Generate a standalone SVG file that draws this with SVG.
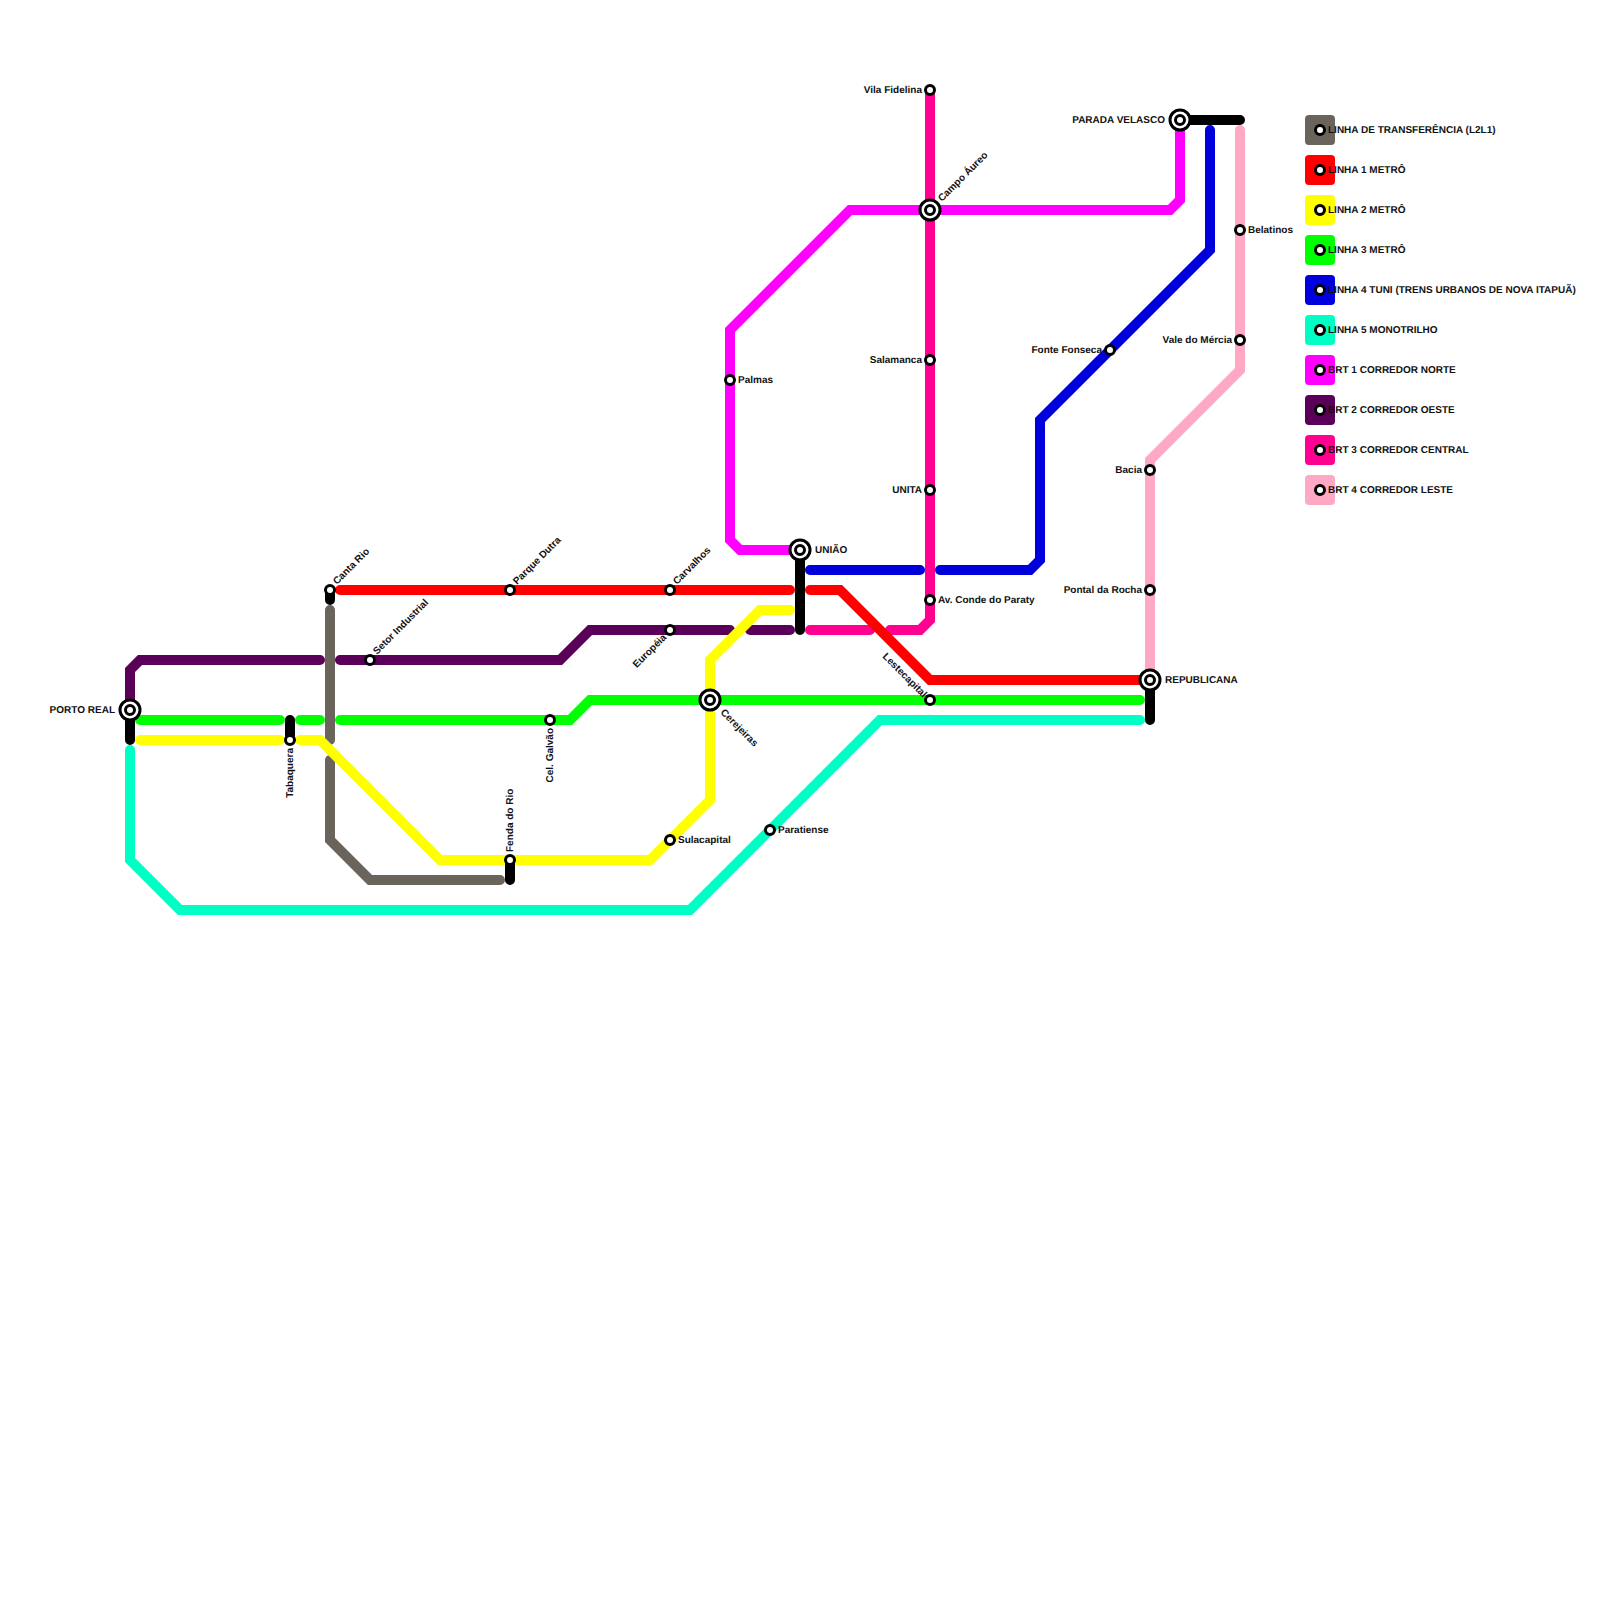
<svg xmlns="http://www.w3.org/2000/svg" width="1600" height="1600" viewBox="0 0 1600 1600">
<style>
text{font-family:"Liberation Sans",Arial,sans-serif;font-size:10px;font-weight:700;fill:#111;text-rendering:geometricPrecision}
.l{fill:none;stroke-width:10;stroke-linecap:round;stroke-linejoin:miter}
.e{text-anchor:end}
.s{fill:#fff;stroke:#000;stroke-width:3}
.gr{stroke:#6b645c}.re{stroke:#f00}.ye{stroke:#ff0}.ge{stroke:#0f0}.bl{stroke:#00d}.te{stroke:#00ffc4}.ma{stroke:#f0f}.pu{stroke:#5a0058}.ho{stroke:#ff0090}.pk{stroke:#ffa8c4}.bk{stroke:#000}
</style>
<defs>
<g id="st"><circle class="s" r="4.5"/></g>
<g id="ix"><circle class="s" r="10"/><circle class="s" r="4.5"/></g>
</defs>
<g id="connectors">
<path class="l gr" d="M330 610V740M330 760V840L370 880H500"/>
<path class="l pu" d="M130 700V670L140 660H320M340 660H560L590 630H730M750 630H790"/>
<path class="l ho" d="M810 630H870M890 630H920L930 620V90"/>
<path class="l re" d="M340 590H790M810 590H840L930 680H1150"/>
<path class="l ye" d="M140 740H280M300 740H320L440 860H650L710 800V660L760 610H790"/>
<path class="l ge" d="M140 720H280M300 720H320M340 720H570L590 700H1140"/>
<path class="l te" d="M130 750V860L180 910H690L880 720H1140"/>
<path class="l bl" d="M810 570H920M940 570H1030L1040 560V420L1210 250V130"/>
<path class="l ma" d="M800 550H740L730 540V330L850 210H1170L1180 200V120"/>
<path class="l pk" d="M1150 680V460L1240 370V130"/>
<path class="l bk" d="M130 710V740M290 720V740M330 590V600M510 860V880M800 550V630M1150 680V720M1180 120H1240"/>
</g>
<g id="porto-real"><use href="#ix" x="130" y="710"/><text class="e" x="115" y="713">PORTO REAL</text></g>
<g id="tabaquera"><use href="#st" x="290" y="740"/><text class="e" transform="translate(293 748) rotate(-90)">Tabaquera</text></g>
<g id="canta-rio"><use href="#st" x="330" y="590"/><text transform="translate(337 585) rotate(-45)">Canta Rio</text></g>
<g id="setor-industrial"><use href="#st" x="370" y="660"/><text transform="translate(377 655) rotate(-45)">Setor Industrial</text></g>
<g id="parque-dutra"><use href="#st" x="510" y="590"/><text transform="translate(517 585) rotate(-45)">Parque Dutra</text></g>
<g id="fenda-do-rio"><use href="#st" x="510" y="860"/><text transform="translate(513 852) rotate(-90)">Fenda do Rio</text></g>
<g id="cel-galvao"><use href="#st" x="550" y="720"/><text class="e" transform="translate(553 728) rotate(-90)">Cel. Galvão</text></g>
<g id="carvalhos"><use href="#st" x="670" y="590"/><text transform="translate(677 585) rotate(-45)">Carvalhos</text></g>
<g id="europeia"><use href="#st" x="670" y="630"/><text class="e" transform="translate(667 638) rotate(-45)">Européia</text></g>
<g id="sulacapital"><use href="#st" x="670" y="840"/><text x="678" y="843">Sulacapital</text></g>
<g id="cerejeiras"><use href="#ix" x="710" y="700"/><text transform="translate(720 713) rotate(45)">Cerejeiras</text></g>
<g id="palmas"><use href="#st" x="730" y="380"/><text x="738" y="383">Palmas</text></g>
<g id="paratiense"><use href="#st" x="770" y="830"/><text x="778" y="833">Paratiense</text></g>
<g id="uniao"><use href="#ix" x="800" y="550"/><text x="815" y="553">UNIÃO</text></g>
<g id="vila-fidelina"><use href="#st" x="930" y="90"/><text class="e" x="922" y="93">Vila Fidelina</text></g>
<g id="campo-aureo"><use href="#ix" x="930" y="210"/><text transform="translate(942 202) rotate(-45)">Campo Áureo</text></g>
<g id="salamanca"><use href="#st" x="930" y="360"/><text class="e" x="922" y="363">Salamanca</text></g>
<g id="unita"><use href="#st" x="930" y="490"/><text class="e" x="922" y="493">UNITA</text></g>
<g id="av-conde"><use href="#st" x="930" y="600"/><text x="938" y="603">Av. Conde do Paraty</text></g>
<g id="lestecapital"><use href="#st" x="930" y="700"/><text class="e" transform="translate(923 698) rotate(45)">Lestecapital</text></g>
<g id="fonte-fonseca"><use href="#st" x="1110" y="350"/><text class="e" x="1102" y="353">Fonte Fonseca</text></g>
<g id="bacia"><use href="#st" x="1150" y="470"/><text class="e" x="1142" y="473">Bacia</text></g>
<g id="pontal"><use href="#st" x="1150" y="590"/><text class="e" x="1142" y="593">Pontal da Rocha</text></g>
<g id="republicana"><use href="#ix" x="1150" y="680"/><text x="1165" y="683">REPUBLICANA</text></g>
<g id="parada-velasco"><use href="#ix" x="1180" y="120"/><text class="e" x="1165" y="123">PARADA VELASCO</text></g>
<g id="vale"><use href="#st" x="1240" y="340"/><text class="e" x="1232" y="343">Vale do Mércia</text></g>
<g id="belatinos"><use href="#st" x="1240" y="230"/><text x="1248" y="233">Belatinos</text></g>
<g id="legend">
<g id="leg0"><rect x="1305" y="115" width="30" height="30" rx="4" fill="#6b645c"/><use href="#st" x="1320" y="130"/><text x="1328" y="133">LINHA DE TRANSFERÊNCIA (L2L1)</text></g>
<g id="leg1"><rect x="1305" y="155" width="30" height="30" rx="4" fill="#f00"/><use href="#st" x="1320" y="170"/><text x="1328" y="173">LINHA 1 METRÔ</text></g>
<g id="leg2"><rect x="1305" y="195" width="30" height="30" rx="4" fill="#ff0"/><use href="#st" x="1320" y="210"/><text x="1328" y="213">LINHA 2 METRÔ</text></g>
<g id="leg3"><rect x="1305" y="235" width="30" height="30" rx="4" fill="#0f0"/><use href="#st" x="1320" y="250"/><text x="1328" y="253">LINHA 3 METRÔ</text></g>
<g id="leg4"><rect x="1305" y="275" width="30" height="30" rx="4" fill="#00d"/><use href="#st" x="1320" y="290"/><text x="1328" y="293">LINHA 4 TUNI (TRENS URBANOS DE NOVA ITAPUÃ)</text></g>
<g id="leg5"><rect x="1305" y="315" width="30" height="30" rx="4" fill="#00ffc4"/><use href="#st" x="1320" y="330"/><text x="1328" y="333">LINHA 5 MONOTRILHO</text></g>
<g id="leg6"><rect x="1305" y="355" width="30" height="30" rx="4" fill="#f0f"/><use href="#st" x="1320" y="370"/><text x="1328" y="373">BRT 1 CORREDOR NORTE</text></g>
<g id="leg7"><rect x="1305" y="395" width="30" height="30" rx="4" fill="#5a0058"/><use href="#st" x="1320" y="410"/><text x="1328" y="413">BRT 2 CORREDOR OESTE</text></g>
<g id="leg8"><rect x="1305" y="435" width="30" height="30" rx="4" fill="#ff0090"/><use href="#st" x="1320" y="450"/><text x="1328" y="453">BRT 3 CORREDOR CENTRAL</text></g>
<g id="leg9"><rect x="1305" y="475" width="30" height="30" rx="4" fill="#ffa8c4"/><use href="#st" x="1320" y="490"/><text x="1328" y="493">BRT 4 CORREDOR LESTE</text></g>
</g>
</svg>
